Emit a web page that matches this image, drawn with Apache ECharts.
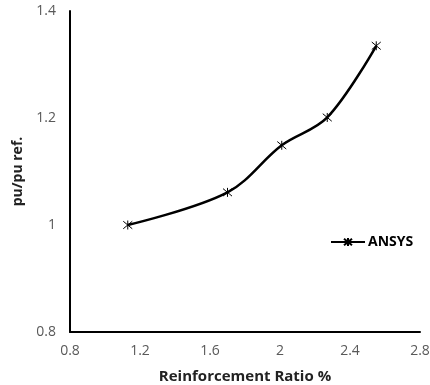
<!DOCTYPE html>
<html>
<head>
<meta charset="utf-8">
<script src="https://cdn.jsdelivr.net/npm/echarts@6/dist/echarts.min.js"></script>
<style>
  html, body { margin: 0; padding: 0; background: #fff; }
  #chart { width: 430px; height: 385px; }
</style>
</head>
<body>
<div id="chart"></div>
<script>
var ratio = [1.13, 1.7, 2.01, 2.27, 2.55];
var puRatio = [1.0, 1.061, 1.149, 1.201, 1.335];
var seriesName = "ANSYS";

var points = ratio.map(function (x, i) { return [x, puRatio[i]]; });
var asterisk = "path://M0,0L10,10M10,0L0,10M5,-1L5,11";
var labelFont = "Open Sans";

var chart = echarts.init(document.getElementById("chart"));
chart.setOption({
    animation: false,
    grid: { left: 70, right: 10, top: 11, bottom: 53, outerBoundsMode: "none", containLabel: false },
    legend: {
        left: 325, top: 230,
        itemWidth: 34, itemHeight: 10,
        textStyle: { color: "#000", fontWeight: "bold", fontSize: 14, fontFamily: labelFont, padding: [0, 0, 0, -2] },
        data: [seriesName]
    },
    xAxis: {
        type: "value", min: 0.8, max: 2.8, interval: 0.4,
        name: "Reinforcement Ratio %", nameLocation: "middle", nameGap: 37,
        nameTextStyle: { color: "#222", fontWeight: "bold", fontSize: 15, fontFamily: labelFont },
        axisLine: { show: true, lineStyle: { color: "#000", width: 2 } },
        axisTick: { show: false },
        splitLine: { show: false },
        axisLabel: { color: "#595959", fontSize: 14, fontFamily: labelFont, margin: 12,
            formatter: function (v) { return +v.toFixed(1); } }
    },
    yAxis: {
        type: "value", min: 0.8, max: 1.4, interval: 0.2,
        name: "pu/pu ref.", nameLocation: "middle", nameGap: 42,
        nameTextStyle: { color: "#222", fontWeight: "bold", fontSize: 14, fontFamily: labelFont },
        axisLine: { show: true, lineStyle: { color: "#000", width: 2 } },
        axisTick: { show: false },
        splitLine: { show: false },
        axisLabel: { color: "#595959", fontSize: 14, fontFamily: labelFont, margin: 14,
            formatter: function (v) { return +v.toFixed(1); } }
    },
    series: [{
        name: seriesName, type: "line", smooth: 0.35,
        data: points,
        symbol: asterisk, symbolSize: 9,
        lineStyle: { color: "#000", width: 2.5 },
        itemStyle: { color: "none", borderColor: "#000", borderWidth: 1 }
    }]
});
</script>
</body>
</html>
